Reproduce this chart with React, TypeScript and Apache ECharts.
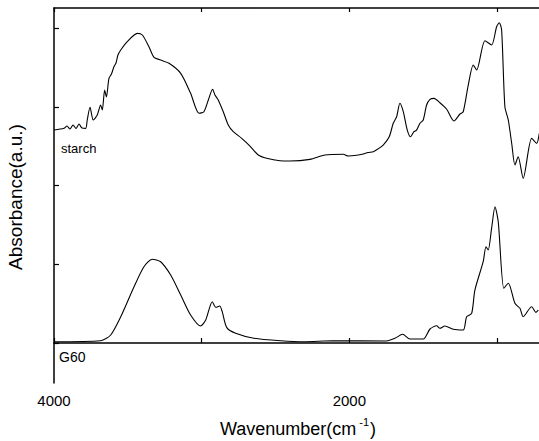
import React, { useEffect, useRef } from "react";
import * as echarts from "echarts";

// Wavenumber (cm^-1) and absorbance (a.u., offset stacked)
const starchWavenumber = [
  4000, 3932, 3912, 3892, 3871, 3851, 3831, 3810, 3785, 3775, 3756, 3734, 3707, 3684, 3673,
  3657, 3645, 3628, 3611, 3594, 3580, 3567, 3548, 3504, 3436, 3402, 3357, 3323, 3278, 3221,
  3142, 3075, 3018, 2985, 2955, 2926, 2910, 2888, 2854, 2820, 2786, 2729, 2673, 2617, 2560,
  2470, 2402, 2267, 2165, 2041, 2008, 1951, 1906, 1874, 1838, 1807, 1771, 1730, 1703, 1680,
  1658, 1635, 1608, 1585, 1563, 1545, 1522, 1500, 1477, 1454, 1427, 1387, 1341, 1292, 1251,
  1229, 1195, 1161, 1138, 1082, 1037, 1003, 985, 969, 947, 924, 901, 879, 857, 823, 766, 732, 714,
];
const starchAbsorbance = [
  2.706, 2.728, 2.757, 2.719, 2.77, 2.726, 2.783, 2.732, 2.728, 2.834, 2.995, 2.834, 2.897, 3.024, 2.961,
  3.215, 3.126, 3.363, 3.418, 3.511, 3.558, 3.659, 3.723, 3.829, 3.935, 3.914, 3.765, 3.63, 3.596, 3.554,
  3.427, 3.173, 2.919, 2.939, 3.088, 3.224, 3.151, 3.088, 2.939, 2.77, 2.685, 2.601, 2.503, 2.389, 2.347,
  2.316, 2.313, 2.334, 2.389, 2.398, 2.376, 2.385, 2.402, 2.421, 2.431, 2.465, 2.516, 2.621, 2.792, 2.875,
  3.046, 2.939, 2.706, 2.621, 2.685, 2.706, 2.792, 2.834, 3.024, 3.097, 3.109, 3.053, 2.97, 2.821, 2.91,
  2.939, 3.278, 3.532, 3.469, 3.841, 3.787, 4.019, 4.07, 3.977, 3.003, 2.834, 2.538, 2.262, 2.367, 2.093, 2.601, 2.538, 2.665,
];

const g60Wavenumber = [
  4000, 3684, 3616, 3548, 3458, 3391, 3335, 3278, 3210, 3142, 3075, 3007, 2973, 2928, 2905,
  2878, 2861, 2831, 2770, 2646, 2465, 2308, 2109, 1748, 1691, 1639, 1590, 1500, 1454, 1409,
  1387, 1353, 1297, 1229, 1206, 1172, 1150, 1094, 1075, 1060, 1037, 1014, 992, 954, 924,
  879, 845, 823, 766, 737, 721,
];
const g60Absorbance = [
  0.017, 0.029, 0.102, 0.334, 0.715, 0.969, 1.064, 1.033, 0.864, 0.61, 0.356, 0.216, 0.292, 0.525, 0.454,
  0.47, 0.398, 0.199, 0.123, 0.06, 0.029, 0.017, 0.029, 0.025, 0.06, 0.111, 0.051, 0.051, 0.178, 0.22,
  0.187, 0.216, 0.174, 0.165, 0.334, 0.377, 0.673, 1.033, 1.224, 1.182, 1.457, 1.732, 1.541, 0.695, 0.759,
  0.504, 0.441, 0.334, 0.461, 0.39, 0.419,
];

const xTickValues = [4000, 3000, 2000, 1000];
const xLabelValues = [4000, 2000];
const yTickValues = [0, 1, 2, 3, 4];
const seriesNames = ["starch", "G60"];

const FONT = "Liberation Sans, Arial, sans-serif";

export default function App() {
  const ref = useRef<HTMLDivElement>(null);
  useEffect(() => {
    if (!ref.current) return;
    const chart = echarts.init(ref.current, null, { renderer: "svg" });
    const zip = (xs: number[], ys: number[]) => xs.map((x, i) => [x, ys[i]]);
    const axisLineStyle = { color: "#000", width: 1.5 };
    chart.setOption({
      animation: false,
      backgroundColor: "#fff",
      grid: {
        left: 54,
        top: 8,
        right: 0,
        bottom: 58,
        containLabel: false,
        outerBoundsMode: "none",
      },
      xAxis: [
        {
          type: "value",
          position: "bottom",
          inverse: true,
          min: 716,
          max: 4000,
          axisLine: { show: true, lineStyle: axisLineStyle },
          axisTick: { show: true, inside: true, length: 5, customValues: xTickValues, lineStyle: { color: "#000", width: 1.2 } },
          axisLabel: {
            show: true,
            customValues: xLabelValues,
            formatter: (v: number) => String(v),
            color: "#000",
            fontSize: 15,
            fontFamily: FONT,
            margin: 10,
          },
          splitLine: { show: false },
        },
        {
          type: "value",
          position: "top",
          inverse: true,
          min: 716,
          max: 4000,
          axisLine: { show: true, lineStyle: axisLineStyle },
          axisTick: { show: true, inside: true, length: 4, customValues: xTickValues, lineStyle: { color: "#000", width: 1.2 } },
          axisLabel: { show: false },
          splitLine: { show: false },
        },
      ],
      yAxis: {
        type: "value",
        min: -0.508,
        max: 4.257,
        axisLine: { show: true, lineStyle: axisLineStyle },
        axisTick: { show: true, inside: true, length: 5, customValues: yTickValues, lineStyle: { color: "#000", width: 1.2 } },
        axisLabel: { show: false },
        splitLine: { show: false },
      },
      series: [
        {
          name: seriesNames[0],
          type: "line",
          xAxisIndex: 0,
          data: zip(starchWavenumber, starchAbsorbance),
          showSymbol: false,
          smooth: 0.25,
          lineStyle: { color: "#000", width: 1.1 },
        },
        {
          name: seriesNames[1],
          type: "line",
          xAxisIndex: 0,
          data: zip(g60Wavenumber, g60Absorbance),
          showSymbol: false,
          smooth: 0.25,
          lineStyle: { color: "#000", width: 1.1 },
        },
      ],
      graphic: [
        {
          type: "text",
          left: 61,
          top: 142,
          style: { text: seriesNames[0], fontSize: 13, fontFamily: FONT, fill: "#000" },
        },
        {
          type: "text",
          left: 59,
          top: 350,
          style: { text: seriesNames[1], fontSize: 14, fontFamily: FONT, fill: "#000" },
        },
        {
          type: "text",
          x: 15,
          y: 197,
          rotation: Math.PI / 2,
          style: {
            text: "Absorbance(a.u.)",
            fontSize: 19,
            fontFamily: FONT,
            fill: "#000",
            align: "center",
            verticalAlign: "middle",
          },
        },
        {
          type: "text",
          x: 298,
          y: 427,
          style: {
            text: "{a|Wavenumber(cm}{s| -1}{a|)}",
            align: "center",
            verticalAlign: "middle",
            fill: "#000",
            rich: {
              a: { fontSize: 18, fontFamily: FONT, fill: "#000", lineHeight: 22, verticalAlign: "bottom" },
              s: { fontSize: 11, fontFamily: FONT, fill: "#000", lineHeight: 22, verticalAlign: "top", padding: [0, 1, 0, 0] },
            },
          },
        },
      ],
    });
    return () => chart.dispose();
  }, []);
  return (
    <div
      ref={ref}
      style={{ position: "fixed", left: 0, top: 0, width: 539, height: 441 }}
    />
  );
}
